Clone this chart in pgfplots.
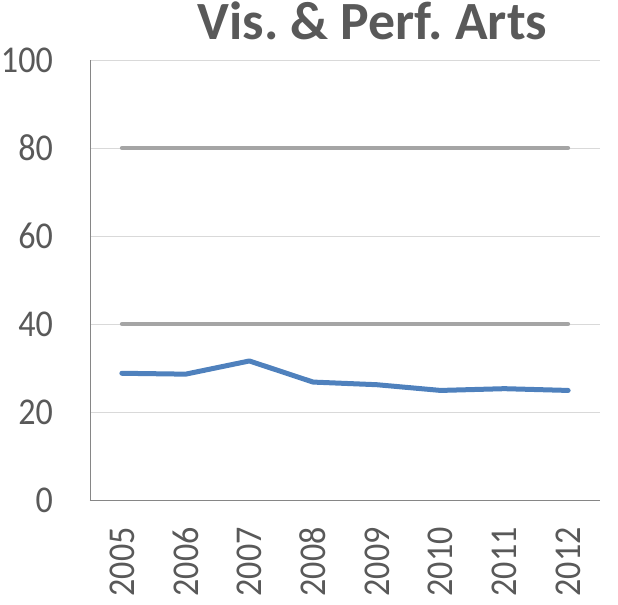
\documentclass[border=0pt]{standalone}
\usepackage{fontspec}
\setmainfont{Carlito}
\newfontfamily\tickfont[FakeStretch=0.9]{Carlito}
\usepackage{pgfplots}
\pgfplotsset{compat=1.18}
\definecolor{tickgray}{HTML}{595959}
\definecolor{gridgray}{HTML}{D9D9D9}
\definecolor{axisgray}{HTML}{868686}
\definecolor{linegray}{HTML}{A5A5A5}
\definecolor{lineblue}{HTML}{4F81BD}
\frenchspacing
\begin{document}
\begin{tikzpicture}[x=1bp,y=1bp]
\useasboundingbox (-90,-105) rectangle (528,500);
\begin{axis}[
  at={(0,0)}, anchor=south west,
  scale only axis, width=510bp, height=440bp,
  xmin=-0.5, xmax=7.5, ymin=0, ymax=100,
  xtick={0,1,2,3,4,5,6,7},
  xticklabels={2005,2006,2007,2008,2009,2010,2011,2012},
  ytick={0,20,40,60,80,100},
  major tick length=0pt,
  ymajorgrids, grid style={gridgray, line width=0.8bp},
  axis x line*=bottom, axis y line*=left,
  axis line style={axisgray, line width=0.8bp, -},
  /pgf/number format/assume math mode=true,
  tick label style={font=\tickfont\fontsize{38}{40}\selectfont, text=tickgray, inner sep=0pt},
  yticklabel style={anchor=east, xshift=-37bp},
  xticklabel style={rotate=90, anchor=east, xshift=-27bp},
  clip=false,
]
\addplot[linegray, line width=4bp, line cap=round] coordinates {(0,80) (1,80) (2,80) (3,80) (4,80) (5,80) (6,80) (7,80)};
\addplot[linegray, line width=4bp, line cap=round] coordinates {(0,40) (1,40) (2,40) (3,40) (4,40) (5,40) (6,40) (7,40)};
\addplot[lineblue, line width=5bp, line cap=round, line join=round] coordinates {
(0,28.8) (1,28.6) (2,31.6) (3,26.8) (4,26.2) (5,24.9) (6,25.3) (7,24.9)};
\end{axis}
\node[font=\fontsize{54}{56}\selectfont\bfseries, text=tickgray, inner sep=0pt, anchor=base] at (282.5,460) {Vis. \& Perf. Arts};
\end{tikzpicture}
\end{document}
